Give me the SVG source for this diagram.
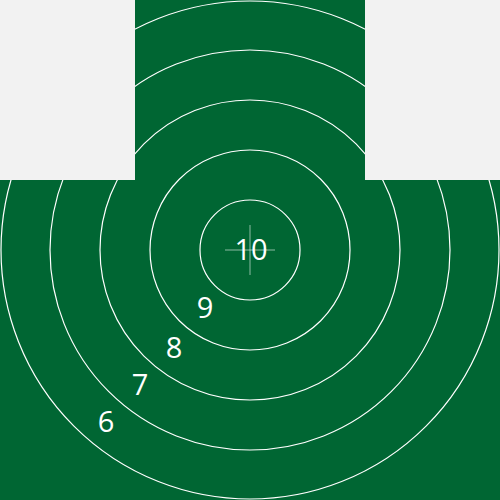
<svg xmlns="http://www.w3.org/2000/svg" width="500" height="500" viewBox="0 0 500 500">
<style>
.ring{fill:none;stroke:#ffffff;stroke-width:1.2}
.lbl{fill:#ffffff;font-family:"Open Sans","Noto Sans",sans-serif;font-size:29px;text-anchor:middle}
.cross{stroke:#ffffff;stroke-opacity:0.55;stroke-width:1}
</style>
<rect x="0" y="0" width="500" height="500" fill="#006633"/>
<g id="rings">
<circle class="ring" cx="250" cy="250" r="50"/>
<circle class="ring" cx="250" cy="250" r="100"/>
<circle class="ring" cx="250" cy="250" r="150"/>
<circle class="ring" cx="250" cy="250" r="200"/>
<circle class="ring" cx="250" cy="250" r="249"/>
</g>
<rect x="0" y="0" width="135" height="180" fill="#f2f2f2"/>
<rect x="365" y="0" width="135" height="180" fill="#f2f2f2"/>
<g id="crosshair">
<line class="cross" x1="225" y1="250" x2="275" y2="250"/>
<line class="cross" x1="250" y1="225" x2="250" y2="275"/>
</g>
<g id="labels">
<text class="lbl" x="251" y="260">10</text>
<text class="lbl" x="205" y="318">9</text>
<text class="lbl" x="174" y="358">8</text>
<text class="lbl" x="140" y="395">7</text>
<text class="lbl" x="106" y="432">6</text>
</g>
</svg>
